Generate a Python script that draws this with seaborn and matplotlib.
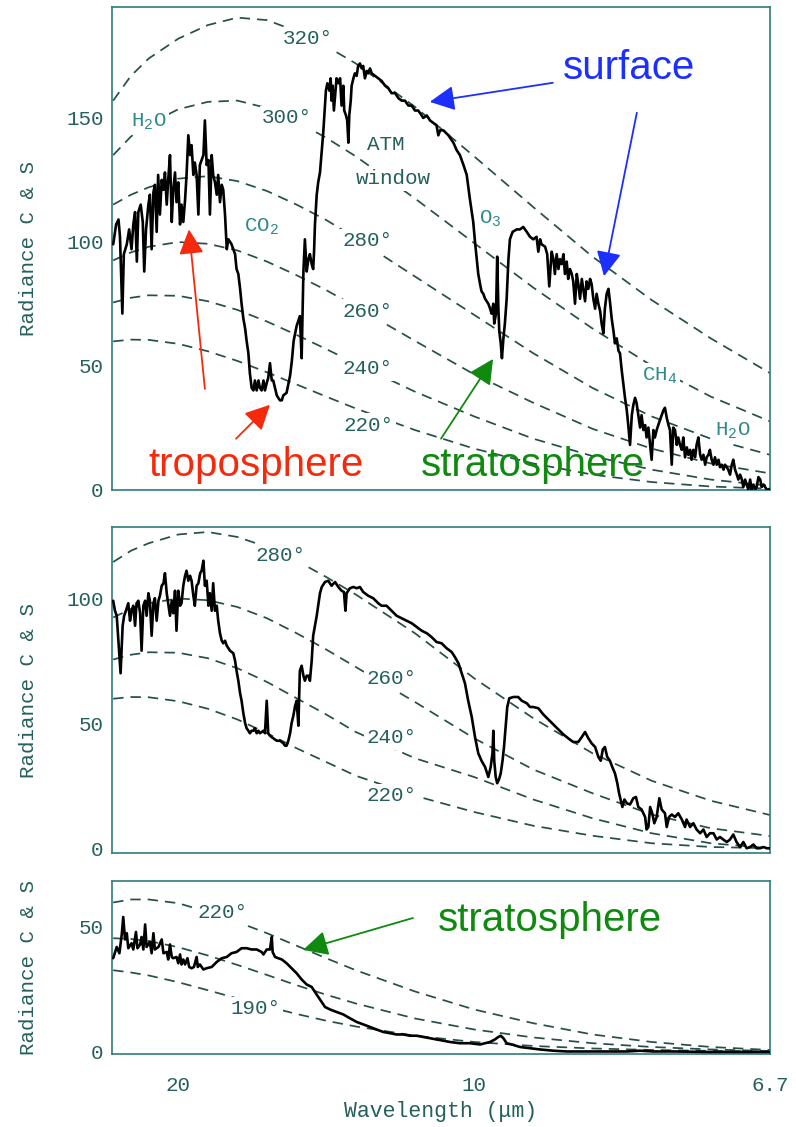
import matplotlib
matplotlib.use("Agg")
import matplotlib.pyplot as plt
import seaborn as sns

# ── DATA ───────────────────────────────────────────────────
# wavenumber (cm-1) grid used for the reference isotherms
iso_nu = [390, 420, 450, 500, 550, 600, 650, 700, 750, 800,
          900, 1000, 1100, 1200, 1300, 1400, 1500]

# panel 1 isotherms
p1_320 = [157, 167, 174, 182, 187.5, 190.5, 189.5, 185, 179, 172, 154.5, 134.5, 114, 94, 76.5, 61, 47]
p1_300 = [135, 142.5, 147.5, 153.5, 156.5, 157, 154, 148.5, 142, 134.5, 117.5, 99.5, 81.5, 65, 50, 37.5, 27.5]
p1_280 = [115, 119, 122, 125.5, 126.5, 124.5, 120.5, 115, 108.8, 101.5, 86, 70.5, 55, 41, 29.5, 20.5, 14]
p1_260 = [92.5, 95.7, 98, 99.9, 99.2, 96.5, 92, 86.5, 80.5, 73.8, 60, 46.5, 35, 24.5, 16.5, 10.5, 6.5]
p1_240 = [75.5, 77.4, 78.4, 78.2, 76, 72.5, 67.8, 62.4, 56.7, 50.8, 39.5, 29.5, 20.5, 13.5, 8, 4, 1.5]
p1_220 = [59.8, 60.5, 60.4, 58.8, 55.8, 51.9, 47.3, 42.4, 37.5, 32.7, 24, 16.5, 10.5, 6, 3, 1.2, 0.3]

# panel 2 isotherms
p2_280 = [114.5, 119, 122, 125.5, 126.5, 124.5, 120.5, 115, 108.5, 101.5, 86, 68, 52, 38, 27, 19, 13.3]
p2_260 = [92.3, 95.7, 98, 99.9, 99.2, 96.5, 92, 86, 79.5, 72.5, 58.5, 44, 31.5, 22, 13.5, 8, 4.9]
p2_240 = [75.5, 77.4, 78.4, 78.2, 76, 72, 66.5, 60, 53.5, 46.5, 36, 28.5, 19.5, 12, 6, 2, 0]
p2_220 = [59.8, 60.5, 60.4, 58.8, 55.8, 51.5, 46, 40, 34.5, 29, 21, 14.5, 9, 5, 2, 0.5, 0]

# panel 3 isotherms
p3_220 = [59.8, 61, 61, 59.5, 56, 52, 47.5, 42.5, 37.5, 32.7, 24.2, 17, 11.5, 7, 4, 2, 0.8]
p3_200 = [45.5, 45.2, 44.4, 41.9, 38.6, 34.8, 30.8, 26.7, 22.9, 19.4, 13.4, 9, 5.8, 3.5, 2, 1, 0.4]
p3_180 = [32.7, 31.8, 30.6, 27.9, 24.7, 21.4, 18.2, 15.2, 12.5, 10.2, 6.5, 4.0, 2.4, 1.4, 0.8, 0.45, 0.25]

# measured spectra: (wavenumber, radiance)
spec_top = [
    (390, 99), (395, 107), (399, 109), (401.5, 102), (405.5, 71), (408, 95), (413, 99), (417, 105),
    (421, 97), (424, 107), (427, 112), (430, 92), (432.5, 112), (436.5, 115), (440, 108), (442.5, 88),
    (445.5, 105), (449.5, 115), (452, 119), (455, 97), (458, 120), (460.5, 123), (463.5, 104), (466, 127),
    (469, 111), (472, 125), (475, 121), (477.5, 128), (480.5, 115), (483, 125), (486, 135), (489, 108),
    (491.5, 121), (494.5, 128), (497, 116), (500, 124), (503, 107), (505.5, 115), (508.5, 108), (511.5, 117),
    (514, 127), (517, 143), (520, 135), (522.5, 139), (525.5, 127), (528, 132), (531, 127), (534, 111),
    (536.5, 131), (539.5, 133), (542.5, 135), (545, 149), (548, 131), (551, 133), (553.5, 111), (556.5, 135),
    (559, 127), (562, 124), (565, 119), (567.5, 127), (570.5, 116), (573.5, 123), (576, 121), (579, 111),
    (582, 97), (584.5, 101), (587.5, 100), (590, 99), (593, 97), (596, 95), (598.5, 89), (601.5, 87),
    (604.5, 81), (607, 75), (610, 69), (613, 65), (615.5, 60), (618.5, 55), (621, 47), (624, 41),
    (627, 40), (629.5, 44), (632.5, 40), (635.5, 44), (638, 41), (641, 40), (644, 44), (646.5, 40),
    (649.5, 43), (652, 45), (655, 51), (658, 44), (660.5, 44), (663.5, 41), (666.5, 38), (669, 37),
    (672, 36), (675, 36), (677.5, 38), (683, 39), (689, 46), (692, 52), (695, 60), (700, 66),
    (705.5, 70), (708.5, 53), (711.5, 88), (714, 101), (717, 88), (720, 93), (722.5, 95), (725.5, 91),
    (728, 89), (729.5, 96), (731, 107), (734, 119), (736.5, 124), (739.5, 128), (742.5, 137), (745, 144),
    (748, 155), (749.5, 161), (752, 164), (755.5, 161), (757.5, 166), (759, 157), (761, 163), (763, 153),
    (765, 159), (767.5, 166), (770.5, 164), (773.5, 166), (776, 155), (779, 163), (780.5, 153), (783.5, 151),
    (785.5, 149), (787.5, 140), (789, 151), (791.5, 157), (793, 163), (796, 166), (798.5, 168), (801.5, 167),
    (804, 171), (807, 172), (810, 170), (812.5, 171), (815.5, 166), (818.5, 169), (821, 168), (824, 170),
    (827, 168), (832.5, 167), (838, 166), (843.5, 165), (849.5, 163), (855, 162), (860.5, 160), (866.5, 160),
    (872, 158), (877.5, 157), (883, 157), (889, 155), (894.5, 155), (900, 153), (905.5, 153), (911.5, 151),
    (914, 150), (920, 151), (925.5, 149), (931, 148), (936.5, 147), (939.5, 143), (942.5, 145), (948, 145),
    (956.5, 143), (965, 140), (970.5, 137), (976, 135), (982, 131), (987.5, 127), (993, 117), (996, 112),
    (998.5, 108), (1001.5, 100), (1004.5, 93), (1007, 87), (1010, 83), (1012.5, 80), (1015.5, 79), (1018.5, 77),
    (1024, 75), (1027, 73), (1029.5, 71), (1032.5, 75), (1034, 67), (1037, 71), (1039, 94), (1041, 73),
    (1042.5, 64), (1045, 59), (1047, 53), (1049.5, 61), (1052, 67), (1055, 77), (1058, 93), (1060.5, 101),
    (1065, 104), (1072, 105), (1077.5, 105), (1083, 106), (1089, 104), (1094.5, 102), (1100, 101), (1105.5, 102),
    (1108.5, 96), (1111.5, 101), (1114, 99), (1120, 98), (1123.5, 95), (1127, 82), (1131, 96), (1134, 93),
    (1136.5, 87), (1139.5, 95), (1142.5, 89), (1145, 93), (1148, 91), (1151, 95), (1153.5, 87), (1156.5, 92),
    (1159, 85), (1162, 89), (1165, 87), (1167.5, 84), (1170.5, 75), (1173.5, 87), (1176, 83), (1179, 77),
    (1182, 85), (1184.5, 81), (1187.5, 76), (1190, 84), (1193, 81), (1196, 85), (1198.5, 83), (1201.5, 77),
    (1204.5, 73), (1207, 79), (1210, 75), (1213, 72), (1215.5, 67), (1218.5, 63), (1221, 73), (1224, 79),
    (1227, 81), (1229.5, 76), (1232.5, 69), (1235.5, 64), (1238, 59), (1241, 61), (1244, 56), (1246.5, 55),
    (1249.5, 48), (1252, 43), (1255, 37), (1258, 32), (1260.5, 26), (1263.5, 18), (1266.5, 30), (1269, 34),
    (1272, 37), (1274.5, 35), (1277.5, 30), (1280.5, 25), (1283, 30), (1286, 24), (1289, 26), (1291.5, 21),
    (1294.5, 25), (1297.5, 18), (1300, 12), (1303, 24), (1305.5, 21), (1308.5, 24), (1314, 28), (1320, 32),
    (1322.5, 33), (1325.5, 29), (1328.5, 26), (1331, 24), (1334, 10), (1336.5, 25), (1339.5, 24), (1342.5, 18),
    (1345, 21), (1348, 18), (1351, 16), (1353.5, 21), (1356.5, 13), (1359.5, 17), (1362, 14), (1365, 16),
    (1367.5, 12), (1370.5, 16), (1373.5, 13), (1376, 18), (1379, 21), (1382, 14), (1384.5, 12), (1387.5, 14),
    (1390.5, 10), (1393, 13), (1396, 14), (1398.5, 16), (1401.5, 12), (1404.5, 10), (1407, 13), (1410, 10),
    (1413, 12), (1415.5, 9), (1418.5, 10), (1421.5, 8), (1424, 10), (1427, 9), (1429.5, 8), (1432.5, 6),
    (1435.5, 10), (1438, 12), (1441, 8), (1444, 6), (1446.5, 4), (1449.5, 6), (1452.5, 4), (1455, 1),
    (1458, 4), (1460.5, 2), (1463.5, 0), (1466.5, 4), (1469, 0), (1472, 2), (1475, 0), (1477.5, 1),
    (1480.5, 5), (1483.5, 4), (1486, 1), (1489, 2), (1494.5, 0), (1500, 0),
]

spec_mid = [
    (390, 99), (393, 95), (396, 93), (402.5, 70), (406, 89), (408.5, 93), (411.5, 95), (415.5, 98),
    (418.5, 91), (421, 95), (424, 97), (427, 89), (429.5, 98), (432.5, 99), (435.5, 94), (438, 79),
    (441, 97), (444, 99), (446.5, 93), (449.5, 102), (452, 99), (455, 85), (458, 98), (460.5, 100),
    (463.5, 91), (466.5, 99), (469, 101), (472, 105), (475, 106), (477.5, 110), (480.5, 102), (483, 98),
    (486, 93), (489, 99), (491.5, 94), (494.5, 103), (497, 87), (500, 103), (503, 97), (505.5, 98),
    (508.5, 105), (511.5, 109), (514, 111), (517, 107), (520, 109), (522.5, 107), (525.5, 101), (528, 97),
    (531, 105), (534, 106), (537, 110), (539.5, 111), (542.5, 115), (545, 105), (548, 107), (551, 97),
    (553.5, 102), (556.5, 95), (559, 106), (562, 95), (565, 97), (567.5, 91), (570.5, 86), (573.5, 83),
    (576, 82), (579, 83), (582, 81), (587.5, 79), (593, 78), (596, 75), (598.5, 71), (601.5, 67),
    (604.5, 62), (607, 59), (610, 54), (613, 50), (615.5, 48), (618.5, 47), (621, 46), (624, 47),
    (627, 47), (629.5, 48), (632.5, 46), (635.5, 47), (638, 46), (644, 47), (646.5, 46), (649.5, 59),
    (652, 46), (655, 45), (660.5, 44), (666.5, 43), (672, 43), (677.5, 42), (680.5, 41), (683, 41),
    (686, 43), (689, 46), (691.5, 50), (694.5, 53), (697.5, 57), (700, 59), (703, 49), (705.5, 71),
    (708.5, 73), (711.5, 69), (714, 67), (717, 69), (720, 69), (722.5, 67), (725.5, 75), (728, 85),
    (731, 89), (734, 93), (736.5, 97), (739.5, 102), (742.5, 104.5), (748, 106.5), (753.5, 107), (759, 105),
    (765, 106.5), (770.5, 104.5), (776, 103), (780, 102.5), (782.5, 95), (784.5, 102), (790, 104), (796, 104.5),
    (801.5, 104), (807, 104.5), (812.5, 102.5), (821, 101), (829.5, 100), (838, 98), (843.5, 97), (852, 97),
    (860.5, 95), (869, 93), (877.5, 92), (886, 91), (894.5, 90), (903, 88.5), (911.5, 87), (920, 86),
    (928, 84.5), (936.5, 82.5), (945, 82), (953.5, 80), (962, 78.5), (967.5, 76.5), (973.5, 74), (979, 70),
    (984.5, 66), (990, 59), (996, 52.5), (1001.5, 44.5), (1007, 38), (1012.5, 35), (1018.5, 32.5), (1024, 28.5),
    (1028, 32.5), (1031, 38), (1032.5, 47), (1034, 35), (1036.5, 28.5), (1039, 26), (1042, 27.5), (1045, 30),
    (1048, 35), (1050.5, 40.5), (1054, 51), (1056, 56.5), (1059.5, 60), (1066.5, 60.5), (1074.5, 60.5), (1080.5, 59),
    (1089, 58), (1094.5, 56.5), (1100, 56.5), (1108.5, 56), (1117, 53.5), (1125.5, 51.5), (1134, 49.5), (1142.5, 47.5),
    (1151, 45.5), (1159, 44), (1167.5, 42.5), (1176, 42.5), (1182, 44.5), (1187.5, 46.5), (1193, 44), (1198.5, 42),
    (1204.5, 40.5), (1210, 36.5), (1214, 35), (1217.5, 39.5), (1221, 40.5), (1225, 36.5), (1229.5, 35), (1233.5, 32.5),
    (1238, 30), (1242, 26), (1245, 22), (1247.5, 19.5), (1250.5, 16.5), (1254, 19.5), (1258, 18), (1263.5, 17.5),
    (1269, 20), (1273.5, 20.5), (1277.5, 16.5), (1283, 15.5), (1289, 12.5), (1291.5, 7.5), (1294.5, 8.5), (1297.5, 16.5),
    (1301, 14), (1304.5, 10), (1308.5, 12.5), (1313, 20), (1317, 15.5), (1322.5, 14), (1325.5, 8.5), (1329.5, 12.5),
    (1334, 13.5), (1339.5, 12.5), (1345, 14), (1351, 11.5), (1356.5, 8.5), (1359, 11.5), (1365, 8.5), (1370.5, 10),
    (1376, 7.5), (1382, 6), (1387.5, 7.5), (1393, 4.5), (1398.5, 6), (1404.5, 6), (1410, 3.5), (1415.5, 4.5),
    (1421, 3.5), (1427, 2.5), (1432.5, 3.5), (1438, 5.5), (1443.5, 2.5), (1449.5, 0.5), (1455, 2.5), (1460.5, 0),
    (1466.5, 0.5), (1472, 1.5), (1477.5, 0), (1483, 0), (1489, 0.5), (1494.5, 0), (1500, 0),
]

spec_bot = [
    (390, 37.5), (396, 42), (400.5, 39.5), (404.5, 47), (407, 54), (410, 45), (413, 47.5), (415.5, 41.5),
    (421, 43.5), (424, 41), (428.5, 48), (431, 41.5), (435.5, 43), (438, 46), (441, 41), (444, 51),
    (446.5, 42), (452, 44), (455, 39.5), (458, 47.5), (460.5, 41), (466.5, 42), (472, 45), (475, 39.5),
    (480.5, 40), (483, 37), (486, 43), (489, 38), (491.5, 37.5), (497, 38), (500, 35.5), (503, 39),
    (505.5, 35), (508.5, 37), (511.5, 35), (515.5, 37.5), (518.5, 34), (522.5, 33.5), (526.5, 34), (531, 38),
    (533, 34), (536.5, 35), (542.5, 33), (548, 33.5), (556.5, 34), (565, 36), (573.5, 37.5), (582, 38),
    (590, 39.5), (598.5, 40), (607, 41.5), (615.5, 41.5), (624, 41), (632.5, 41), (641, 40), (644, 39),
    (649.5, 41), (655, 41), (658, 46), (659.5, 40), (663.5, 38), (669, 37.5), (675, 37), (683, 35.5),
    (691.5, 33.5), (700, 31.5), (708.5, 29), (717, 27), (725.5, 26), (731, 24), (739.5, 21), (748, 18),
    (756.5, 17), (767.5, 16), (779, 15), (790, 13.5), (801.5, 12), (813, 11), (824, 10), (835, 9),
    (846.5, 8), (858, 7.5), (869, 7), (880.5, 7), (891.5, 6.5), (903, 6.5), (914, 6), (925.5, 5.5),
    (936.5, 5), (948, 4.5), (959, 4), (976, 3.5), (993, 3.5), (1010, 3), (1027, 4), (1035, 5),
    (1041, 6), (1045, 6.5), (1049.5, 5.5), (1055, 3.5), (1063.5, 3), (1077.5, 2), (1094.5, 1.5), (1111.5, 1),
    (1134, 0.5), (1156.5, 0.2), (1179, 0.2), (1201.5, 0.2), (1224, 0.2), (1258, 0.2), (1280.5, 0.5), (1303, 0.2),
    (1336.5, 0.2), (1393, 0), (1449.5, 0), (1500, 0),
]

x_ticks = [500, 1000, 1500]
x_ticklabels = ["20", "10", "6.7"]

# ── STYLE ──────────────────────────────────────────────────
sns.set_style("white")
MONO = ["Liberation Mono", "DejaVu Sans Mono"]
SANS = ["Liberation Sans", "DejaVu Sans"]
plt.rcParams["font.family"] = MONO
plt.rcParams["mathtext.fontset"] = "custom"
plt.rcParams["mathtext.rm"] = "Liberation Mono"
plt.rcParams["mathtext.it"] = "Liberation Mono"
plt.rcParams["lines.dashed_pattern"] = [6, 4]

TEAL = "#2f7d7a"      # frame / ticks
TXT = "#25605d"       # tick labels, temperatures
MOL = "#2e8a88"       # molecule labels
DASH = "#244f4c"      # isotherms
BLUE, RED, GREEN = "#1c2fff", "#f52a0c", "#0f8a0f"
LABEL_BOX = dict(boxstyle="square,pad=0.12", fc="white", ec="none")

fig = plt.figure(figsize=(7.96, 11.27), dpi=100)
fig.patch.set_facecolor("white")
ax1 = fig.add_axes([0.1407, 0.5648, 0.8266, 0.4290])
ax2 = fig.add_axes([0.1407, 0.2429, 0.8266, 0.2895])
ax3 = fig.add_axes([0.1407, 0.0648, 0.8266, 0.1535])


def draw_panel(ax, spec, isos, ylim, yticks):
    for vals in isos:
        sns.lineplot(x=iso_nu, y=vals, ax=ax, color=DASH, lw=1.25, linestyle="--",
                     estimator=None, sort=False, zorder=2)
    nu = [p[0] for p in spec]
    rad = [p[1] for p in spec]
    sns.lineplot(x=nu, y=rad, ax=ax, color="black", lw=1.9,
                 estimator=None, sort=False, zorder=5)
    ax.set_xlim(388, 1500)
    ax.set_ylim(*ylim)
    ax.set_xticks(x_ticks)
    ax.set_yticks(yticks)
    ax.tick_params(axis="both", direction="in", length=8.5, width=1.0, color=TEAL,
                   labelcolor=TXT, labelsize=15)
    ax.tick_params(axis="y", pad=6)
    for sp in ax.spines.values():
        sp.set_edgecolor(TEAL)
        sp.set_linewidth(1.2)
    ax.set_xlabel("")
    ax.set_ylabel("Radiance C & S", fontsize=15, color=TXT)
    ax.yaxis.set_label_coords(-0.113, 0.5)


draw_panel(ax1, spec_top, [p1_320, p1_300, p1_280, p1_260, p1_240, p1_220], (-0.4, 194.8), [0, 50, 100, 150])
draw_panel(ax2, spec_mid, [p2_280, p2_260, p2_240, p2_220], (-2, 128.5), [0, 50, 100])
draw_panel(ax3, spec_bot, [p3_220, p3_200, p3_180], (-0.8, 68.4), [0, 50])

for ax in (ax1, ax2):
    ax.tick_params(axis="x", labelbottom=False)
ax3.set_xticklabels(x_ticklabels)
ax3.tick_params(axis="x", pad=16)
ax3.set_xlabel("Wavelength (\u03bcm)", fontsize=15.5, color=TXT, labelpad=4)


def label(ax, x, y, s, color=TXT, size=15):
    ax.text(x, y, s, ha="center", va="center", fontsize=size, color=color,
            bbox=LABEL_BOX, zorder=3)


# ── PANEL 1 LABELS ─────────────────────────────────────────
label(ax1, 719, 182, "320\u00b0")
label(ax1, 684, 150, "300\u00b0")
label(ax1, 819, 100.5, "280\u00b0")
label(ax1, 819, 72, "260\u00b0")
label(ax1, 819, 48.7, "240\u00b0")
label(ax1, 822, 25.9, "220\u00b0")
label(ax1, 450, 148.6, r"H$_2$O", MOL)
label(ax1, 641.5, 106, r"CO$_2$", MOL)
label(ax1, 851, 139.4, "ATM")
label(ax1, 863, 125.4, "window")
label(ax1, 1027, 109.3, r"O$_3$", MOL)
label(ax1, 1314, 45.9, r"CH$_4$", MOL)
label(ax1, 1437.5, 23.5, r"H$_2$O", MOL)

# ── PANEL 2 / 3 LABELS ─────────────────────────────────────
label(ax2, 672, 117, "280\u00b0")
label(ax2, 861, 67.7, "260\u00b0")
label(ax2, 861, 44.1, "240\u00b0")
label(ax2, 861, 21, "220\u00b0")
label(ax3, 574, 55.6, "220\u00b0")
label(ax3, 631, 17.2, "190\u00b0")

# ── COLOURED ANNOTATIONS ───────────────────────────────────
def arrow(ax, tail, tip, color):
    ax.annotate("", xy=tip, xytext=tail, zorder=6,
                arrowprops=dict(arrowstyle="-|>,head_length=0.4,head_width=0.2",
                                mutation_scale=38, color=color, lw=1.3,
                                shrinkA=0, shrinkB=0))


ax1.text(1262, 170, "surface", fontsize=29, color=BLUE, family=SANS, ha="center", va="center", zorder=6)
ax1.text(631, 9.7, "troposphere", fontsize=29, color=RED, family=SANS, ha="center", va="center", zorder=6)
ax1.text(1099.5, 9.7, "stratosphere", fontsize=29, color=GREEN, family=SANS, ha="center", va="center", zorder=6)
ax3.text(1128, 52.8, "stratosphere", fontsize=29, color=GREEN, family=SANS, ha="center", va="center", zorder=6)

arrow(ax1, (1133, 164.2), (925, 156.5), BLUE)
arrow(ax1, (1275, 152.1), (1219.5, 86.1), BLUE)
arrow(ax1, (545, 40.6), (518, 105), RED)
arrow(ax1, (597.6, 20.5), (655, 34.2), RED)
arrow(ax1, (944, 20.5), (1032, 52.7), GREEN)
arrow(ax3, (896.7, 53.6), (710.8, 40.8), GREEN)

plt.savefig("out.png", dpi=100, facecolor="white")
